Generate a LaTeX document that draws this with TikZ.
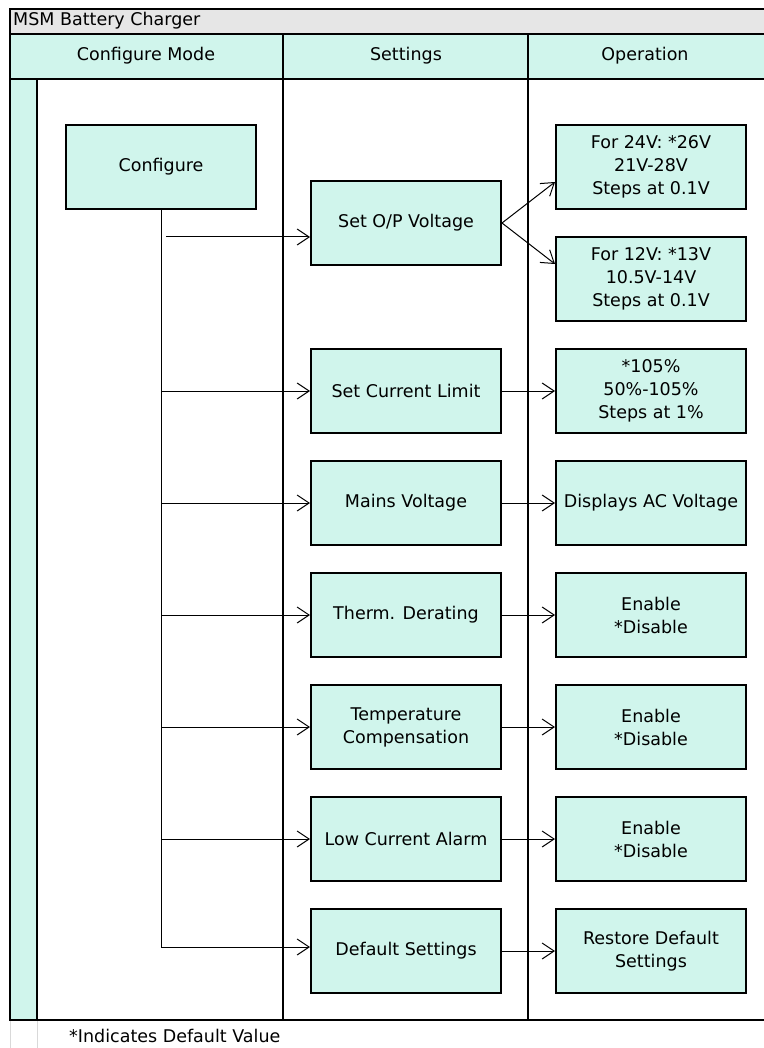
\documentclass[tikz,border=0pt]{standalone}
\usepackage{fontspec}
\setmainfont{DejaVu Sans}
\usepackage{tikz}
\usetikzlibrary{arrows.meta,positioning,calc}
\definecolor{msmmint}{HTML}{D0F5EC}
\definecolor{msmgrey}{HTML}{E6E6E6}
\tikzset{
  stepbox/.style={draw, line width=2pt, fill=msmmint, minimum width=190pt, minimum height=84pt,
    align=center, inner sep=0pt, font=\fontsize{17.5}{23}\selectfont},
  plain/.style={inner sep=0pt, font=\fontsize{17.5}{23}\selectfont},
  link/.style={-{Straight Barb[length=12pt,width=16pt]}, line width=1pt}
}
\begin{document}
\begin{tikzpicture}[x=1pt,y=-1pt]
  \useasboundingbox (0,0) rectangle (763,1048);
  \fill[msmgrey] (10,9) rectangle (766,34);
  \fill[msmmint] (10,34) rectangle (766,79);
  \fill[msmmint] (10,79) rectangle (37,1020);
  \draw[gray!30] (10,1020) -- (10,1048) (37,1020) -- (37,1048);
  \draw[line width=1.5pt] (283,34) -- (283,1020) (528,34) -- (528,1020);
  \draw[line width=1.5pt] (10,34) -- (766,34);
  \draw[line width=2pt] (10,79) -- (766,79) (37,79) -- (37,1020);
  \draw[line width=2pt] (10,9) rectangle (766,1020);

  \node[plain, anchor=west] (title) at (13,21) {MSM Battery Charger};
  \node[plain] (hmode) at (146,56) {Configure Mode};
  \node[plain] (hset) at (406,56) {Settings};
  \node[plain] (hop) at (645,56) {Operation};
  \node[plain, anchor=west] (note) at (69,1036) {*Indicates Default Value};

  \node[stepbox] (cfg) at (161,167) {Configure};

  \node[stepbox] (opv) at (406,223) {Set O/P Voltage};
  \node[stepbox] (cur) at (406,391) {Set Current Limit};
  \node[stepbox] (mains) at (406,503) {Mains Voltage};
  \node[stepbox] (therm) at (406,615) {Therm. Derating};
  \node[stepbox] (tcomp) at (406,727) {Temperature\\Compensation};
  \node[stepbox] (lowc) at (406,839) {Low Current Alarm};
  \node[stepbox] (dflt) at (406,951) {Default Settings};

  \node[stepbox] (v24) at (651,167) {For 24V: *26V\\21V-28V\\Steps at 0.1V};
  \node[stepbox] (v12) at (651,279) {For 12V: *13V\\10.5V-14V\\Steps at 0.1V};
  \node[stepbox] (pct) at (651,391) {*105\%\\50\%-105\%\\Steps at 1\%};
  \node[stepbox] (acv) at (651,503) {Displays AC Voltage};
  \node[stepbox] (thermop) at (651,615) {Enable\\*Disable};
  \node[stepbox] (tcompop) at (651,727) {Enable\\*Disable};
  \node[stepbox] (lowcop) at (651,839) {Enable\\*Disable};
  \node[stepbox] (dfltop) at (651,951) {Restore Default\\Settings};

  \draw[line width=1pt] (cfg.south) -- ([yshift=4pt]cfg.south |- dflt.west);
  \draw[link] ([xshift=5pt,yshift=-14pt]cfg.south |- opv.west) -- ([yshift=-14pt]opv.west);
  \foreach \n in {cur,mains,therm,tcomp,lowc}
    \draw[link] (cfg.south |- \n.west) -- (\n.west);
  \draw[link] ([yshift=4pt]cfg.south |- dflt.west) -- ([yshift=4pt]dflt.west);

  \draw[link] (opv.east) -- ([yshift=-15pt]v24.west);
  \draw[link] (opv.east) -- ([yshift=15pt]v12.west);
  \draw[link] (cur.east) -- (pct.west);
  \draw[link] (mains.east) -- (acv.west);
  \draw[link] (therm.east) -- (thermop.west);
  \draw[link] (tcomp.east) -- (tcompop.west);
  \draw[link] (lowc.east) -- (lowcop.west);
  \draw[link] (dflt.east) -- (dfltop.west);
\end{tikzpicture}
\end{document}
